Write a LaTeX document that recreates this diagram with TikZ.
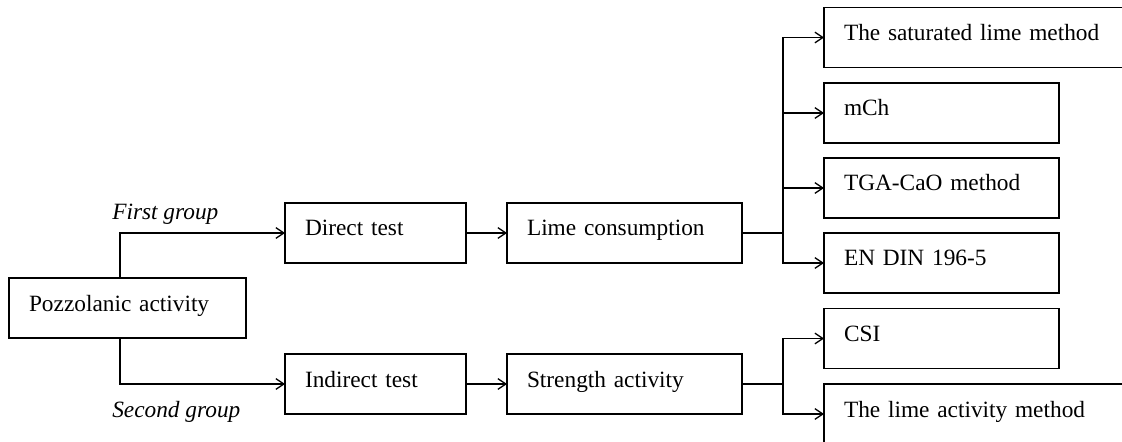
\documentclass[tikz,border=0pt]{standalone}
\usepackage{fontspec}
\setmainfont{Liberation Serif}
\usetikzlibrary{arrows.meta}
\begin{document}
\begin{tikzpicture}[x=0.75pt,y=-0.75pt,
  font=\fontsize{17.5pt}{21pt}\selectfont,
  box/.style={draw, line width=1.1pt, anchor=north west, inner xsep=15pt, inner ysep=0pt, outer sep=0pt,
    text height=24.75pt, text depth=20.25pt, align=left, text width=#1},
  conn/.style={line width=0.95pt},
  arr/.style={conn, -{Straight Barb[length=6pt,width=8pt]}},
  grp/.style={anchor=base west, inner sep=0pt, font=\fontsize{17.5pt}{21pt}\selectfont\itshape}]
\useasboundingbox (0,0) rectangle (1122,442);
\clip (0,0) rectangle (1122,442);
\node[box=147.75pt] (pozz) at (9,278) {Pozzolanic activity};
\node[box=105.75pt] (direct) at (285,203) {Direct test};
\node[box=105.75pt] (indirect) at (285,354) {Indirect test};
\node[box=146.25pt] (lime) at (507,203) {Lime consumption};
\node[box=146.25pt] (strength) at (507,354) {Strength activity};
\node[box=207pt] (sat) at (824,7.5) {The saturated lime method};
\node[box=146.25pt] (mch) at (824,83) {mCh};
\node[box=146.25pt] (tga) at (824,158) {TGA-CaO method};
\node[box=146.25pt] (en) at (824,233) {EN DIN 196-5};
\node[box=146.25pt] (csi) at (824,308.5) {CSI};
\node[box=207pt] (limeact) at (824,384) {The lime activity method};
\node[grp] (g1) at (112,220) {First group};
\node[grp] (g2) at (112,417) {Second group};
\coordinate (j1) at (783,233);
\coordinate (j2) at (783,384);
\draw[arr] ([xshift=-5.6pt]pozz.north) |- (direct.west);
\draw[arr] ([xshift=-5.6pt]pozz.south) |- (indirect.west);
\draw[arr] (direct.east) -- (lime.west);
\draw[arr] (indirect.east) -- (strength.west);
\draw[conn] (lime.east) -- (j1);
\draw[conn] (strength.east) -- (j2);
\draw[arr] (j1) |- (sat.west);
\draw[arr] (j1) |- (mch.west);
\draw[arr] (j1) |- (tga.west);
\draw[arr] (j1) |- (en.west);
\draw[arr] (j2) |- (csi.west);
\draw[arr] (j2) |- (limeact.west);
\end{tikzpicture}
\end{document}
